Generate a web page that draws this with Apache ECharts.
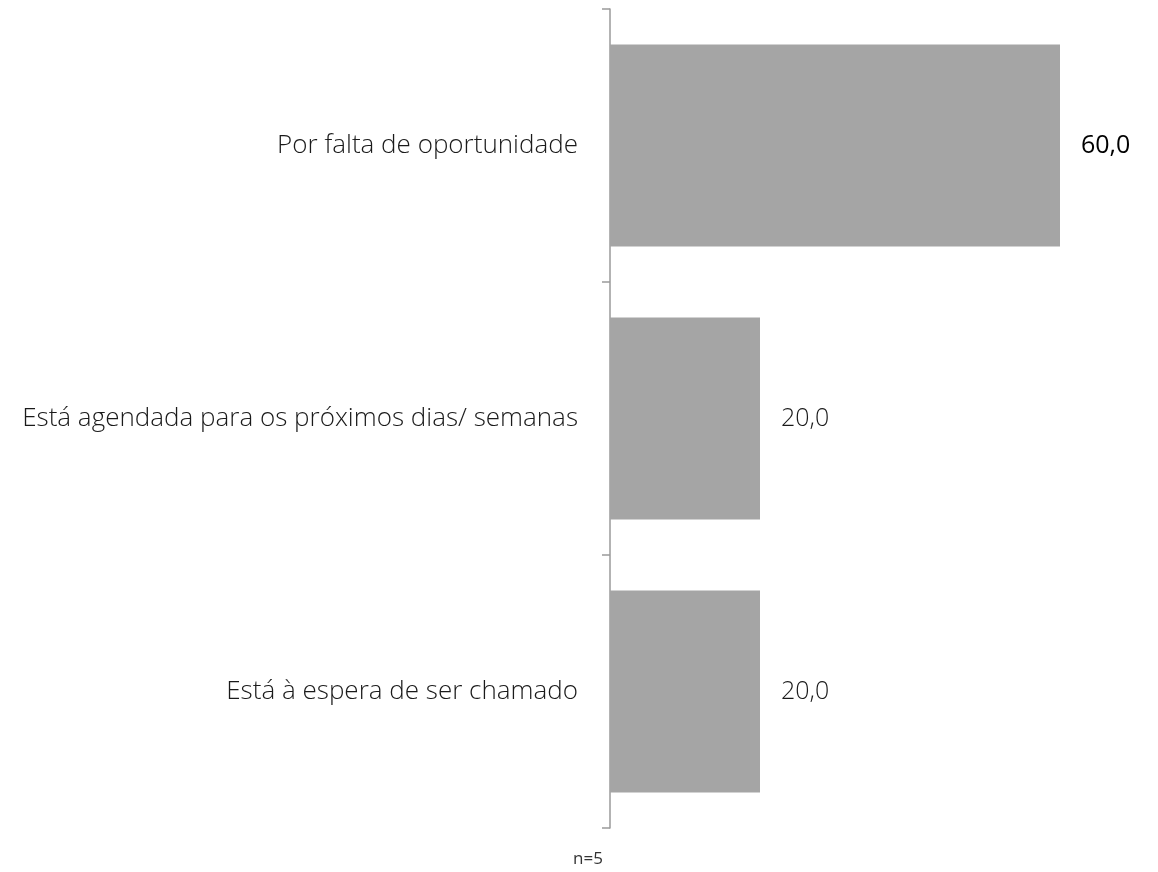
<!DOCTYPE html>
<html>
<head>
<meta charset="utf-8">
<script src="https://cdn.jsdelivr.net/npm/echarts@6/dist/echarts.min.js"></script>
<style>html,body{margin:0;padding:0;background:#fff;}#c{width:1158px;height:872px;}</style>
</head>
<body>
<div id="c"></div>
<script>
const categories = ["Por falta de oportunidade", "Está agendada para os próximos dias/ semanas", "Está à espera de ser chamado"];
const values = [60.0, 20.0, 20.0];
const note = "n=5";

const chart = echarts.init(document.getElementById('c'));
chart.setOption({
  animation: false,
  grid: { left: 610, top: 9, bottom: 44, width: 525 },
  xAxis: { type: 'value', min: 0, max: 70, show: false },
  yAxis: {
    type: 'category', data: categories, inverse: true, offset: 4,
    axisLine: { lineStyle: { color: '#9a9a9a', width: 1.5 } },
    axisTick: { show: true, length: 8, lineStyle: { color: '#9a9a9a', width: 1.5 } },
    axisLabel: { margin: 28, fontFamily: 'Open Sans', fontWeight: 300, fontSize: 26, color: '#1a1a1a' }
  },
  series: [{
    type: 'bar',
    data: values.map((v, i) => ({
      value: v,
      label: i === 0 ? { color: '#000', fontWeight: 400 } : {}
    })),
    barCategoryGap: '26%',
    itemStyle: { color: '#a5a5a5' },
    label: {
      show: true, position: 'right', distance: 21,
      formatter: p => p.value.toFixed(1).replace('.', ','),
      fontFamily: 'Open Sans', fontWeight: 300, fontSize: 25, color: '#1a1a1a'
    }
  }],
  graphic: [{ type: 'text', left: 573, top: 851, style: { text: note, fontFamily: 'Open Sans', fontWeight: 400, fontSize: 17, fill: '#333333' } }]
});
</script>
</body>
</html>
